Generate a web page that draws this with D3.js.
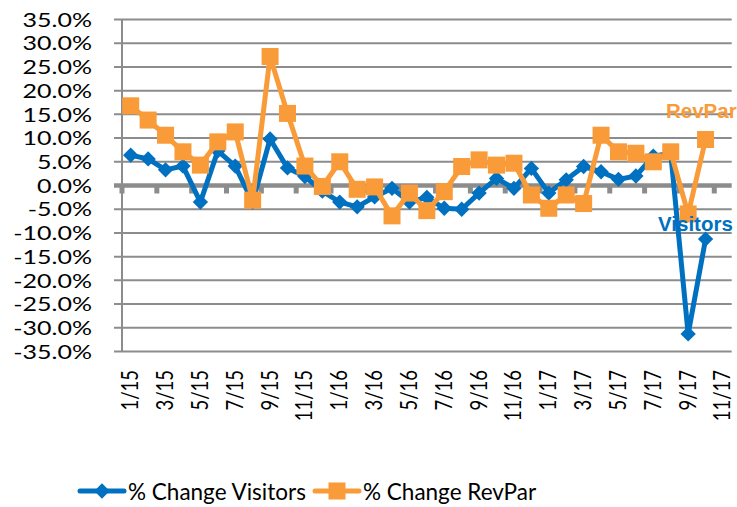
<!DOCTYPE html>
<html>
<head>
<meta charset="utf-8">
<script src="https://cdn.jsdelivr.net/npm/d3@7"></script>
<style>
  body { margin: 0; background: #fff; }
  svg { display: block; }
</style>
</head>
<body>
<svg width="737" height="507"></svg>
<script>
// months 1/15 .. 11/17
const months = ["1/15","2/15","3/15","4/15","5/15","6/15","7/15","8/15","9/15","10/15","11/15","12/15",
  "1/16","2/16","3/16","4/16","5/16","6/16","7/16","8/16","9/16","10/16","11/16","12/16",
  "1/17","2/17","3/17","4/17","5/17","6/17","7/17","8/17","9/17","10/17","11/17"];

const visitors = [6.4, 5.6, 3.3, 4.1, -3.5, 7.3, 4.1, -3.5, 9.8, 3.7, 1.9, -1.2,
  -3.5, -4.5, -2.4, -0.6, -3.5, -2.5, -4.8, -5.0, -1.6, 1.5, -0.6, 3.6,
  -1.6, 1.2, 4.0, 2.9, 1.3, 2.0, 6.2, 6.8, -31.3, -11.3];

const revpar = [16.8, 13.8, 10.6, 7.1, 4.3, 9.2, 11.3, -3.1, 27.2, 15.2, 4.1, -0.2,
  5.0, -0.8, -0.3, -6.4, -1.6, -5.3, -1.3, 4.0, 5.4, 4.3, 4.7, -2.0,
  -4.8, -2.0, -3.8, 10.6, 7.1, 6.8, 5.0, 7.1, -6.0, 9.7];

const yTicks = d3.range(-35, 36, 5);
const seriesNames = ["% Change Visitors", "% Change RevPar"];

const blue = "#0070c0", orange = "#f99b38", grid = "#8c8c8c";

const svg = d3.select("svg");
const plotLeft = 122, plotRight = 731.7, plotTop = 19.5, plotBottom = 351.5;

const x = d3.scaleBand().domain(months).range([plotLeft, plotRight]);
const y = d3.scaleLinear().domain([-35, 35]).range([plotBottom, plotTop]);
const cx = i => x(months[i]) + x.bandwidth() / 2;

// gridlines
svg.append("g").selectAll("line")
  .data(yTicks.filter(d => d !== 0))
  .join("line")
  .attr("x1", plotLeft - 8).attr("x2", plotRight)
  .attr("y1", d => y(d)).attr("y2", d => y(d))
  .attr("stroke", grid).attr("stroke-width", 2);

// left axis
svg.append("line")
  .attr("x1", plotLeft).attr("x2", plotLeft).attr("y1", plotTop).attr("y2", plotBottom)
  .attr("stroke", grid).attr("stroke-width", 2);

// tick labels: the source looks horizontally stretched, so scale them a bit
svg.append("g").selectAll("text")
  .data(yTicks)
  .join("text")
  .attr("transform", d => `translate(92,${y(d)}) scale(1.25,1)`)
  .attr("dy", "0.36em")
  .attr("text-anchor", "end")
  .attr("font-family", "Lato").attr("font-size", 20)
  .attr("fill", "#000")
  .text(d => d.toFixed(1) + "%");

// zero axis with ticks at every second boundary
svg.append("line")
  .attr("x1", plotLeft - 8).attr("x2", plotRight)
  .attr("y1", y(0)).attr("y2", y(0))
  .attr("stroke", grid).attr("stroke-width", 4.5);

svg.append("g").selectAll("line")
  .data(d3.range(0, months.length + 1, 2))
  .join("line")
  .attr("x1", i => plotLeft + i * x.step()).attr("x2", i => plotLeft + i * x.step())
  .attr("y1", y(0)).attr("y2", y(0) + 8)
  .attr("stroke", grid).attr("stroke-width", 5);

// x labels (rotated)
svg.append("g").selectAll("text")
  .data(months.filter((m, i) => i % 2 === 0))
  .join("text")
  .attr("transform", d => `translate(${x(d) + x.bandwidth() / 2 + 7.5},370) rotate(-90) scale(1,1.2)`)
  .attr("text-anchor", "end")
  .attr("font-family", "Lato").attr("font-size", 18.5)
  .attr("fill", "#000")
  .text(d => d);

// series
const line = d3.line().x((d, i) => cx(i)).y(d => y(d));
const diamond = d3.symbol().type(d3.symbolDiamond2).size(150);

function drawSeries(vals, color, kind) {
  const g = svg.append("g");
  g.append("path")
    .datum(vals)
    .attr("d", line)
    .attr("fill", "none").attr("stroke", color)
    .attr("stroke-width", 5).attr("stroke-linejoin", "round");
  if (kind === "diamond") {
    g.selectAll("path.m").data(vals).join("path").attr("class", "m")
      .attr("transform", (d, i) => `translate(${cx(i)},${y(d)})`)
      .attr("d", diamond).attr("fill", color);
  } else {
    g.selectAll("rect").data(vals).join("rect")
      .attr("x", (d, i) => cx(i) - 8.5).attr("y", d => y(d) - 8.5)
      .attr("width", 17).attr("height", 17).attr("fill", color);
  }
}
drawSeries(visitors, blue, "diamond");
drawSeries(revpar, orange, "square");

// data labels
svg.append("text").attr("x", 666).attr("y", 118)
  .attr("font-family", "Liberation Sans").attr("font-weight", "bold")
  .attr("font-size", 20.5).attr("fill", orange).text("RevPar");
svg.append("text").attr("x", 658).attr("y", 231)
  .attr("font-family", "Liberation Sans").attr("font-weight", "bold")
  .attr("font-size", 20.5).attr("fill", blue).text("Visitors");

// legend
const legend = svg.append("g");
const legItems = [
  { name: seriesNames[0], color: blue, kind: "diamond", x0: 80 },
  { name: seriesNames[1], color: orange, kind: "square", x0: 315 }
];
legItems.forEach(it => {
  const ly = 491;
  legend.append("line")
    .attr("x1", it.x0).attr("x2", it.x0 + 44).attr("y1", ly).attr("y2", ly)
    .attr("stroke", it.color).attr("stroke-width", 5).attr("stroke-linecap", "round");
  if (it.kind === "diamond") {
    legend.append("path").attr("transform", `translate(${it.x0 + 22},${ly})`)
      .attr("d", diamond).attr("fill", it.color);
  } else {
    legend.append("rect").attr("x", it.x0 + 22 - 8.5).attr("y", ly - 8.5)
      .attr("width", 17).attr("height", 17).attr("fill", it.color);
  }
  legend.append("text").attr("x", it.x0 + 48).attr("y", ly + 8.5)
    .attr("font-family", "Lato").attr("font-size", 22.5).attr("fill", "#000")
    .text(it.name);
});
</script>
</body>
</html>
